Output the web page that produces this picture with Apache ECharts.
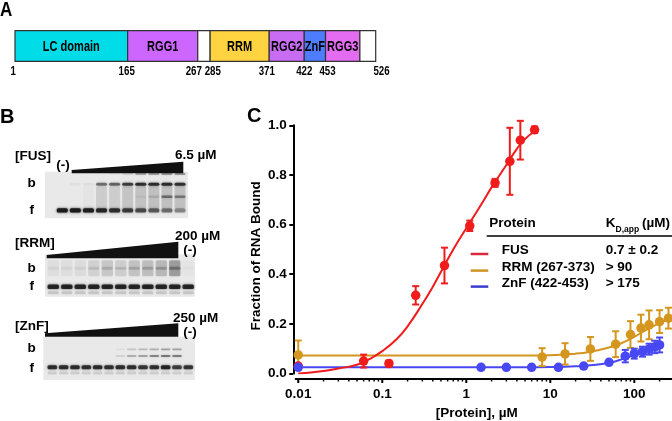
<!DOCTYPE html>
<html><head><meta charset="utf-8">
<script src="https://cdn.jsdelivr.net/npm/echarts@6/dist/echarts.min.js"></script>
<style>html,body{margin:0;padding:0;background:#fff}#c{width:672px;height:421px}</style>
</head><body><div id="c"></div>
<script>
// ---------- Panel A: FUS domain map ----------
const domainNames  = ['LC domain', 'RGG1', '', 'RRM', 'RGG2', 'ZnF', 'RGG3', ''];
const domainStart  = [1, 165, 267, 285, 371, 422, 453, 503];
const domainEnd    = [165, 267, 285, 371, 422, 453, 503, 526];
const boundaryTicks = [1, 165, 267, 285, 371, 422, 453, 526];

// ---------- Panel B: EMSA gels (band intensity per lane, 0..1) ----------
const fusLanes = [1, 2, 3, 4, 5, 6, 7, 8, 9, 10];
const fusFree  = [0.92, 0.92, 0.9, 0.85, 0.8, 0.72, 0.65, 0.58, 0.5, 0.4];
const fusBound = [0, 0.04, 0.05, 0.5, 0.55, 0.72, 0.8, 0.82, 0.82, 0.8];
const fusTop   = [0, 0, 0, 0, 0.04, 0.12, 0.3, 0.32, 0.36, 0.36];
const fusSuper = [0, 0, 0, 0, 0, 0, 0.05, 0.12, 0.45, 0.4];
const fusSmear = [0, 0, 0.02, 0.12, 0.12, 0.15, 0.16, 0.17, 0.17, 0.17];

const rrmLanes = [1, 2, 3, 4, 5, 6, 7, 8, 9, 10, 11];
const rrmFree  = [0.85, 0.86, 0.85, 0.85, 0.86, 0.85, 0.85, 0.86, 0.85, 0.85, 0.85];
const rrmSmear = [0.05, 0.05, 0.06, 0.1, 0.14, 0.12, 0.16, 0.18, 0.2, 0.3, 0.02];
const rrmLower = [0.15, 0.15, 0.15, 0.15, 0.15, 0.15, 0.15, 0.15, 0.15, 0.15, 0.15];

const znfLanes = [1, 2, 3, 4, 5, 6, 7, 8, 9, 10, 11, 12, 13];
const znfFree  = [0.8, 0.8, 0.8, 0.78, 0.8, 0.78, 0.8, 0.78, 0.75, 0.78, 0.85, 0.7, 0.75];
const znfUpper = [0, 0, 0, 0, 0, 0, 0.05, 0.15, 0.2, 0.25, 0.3, 0.3, 0];
const znfLower = [0, 0, 0, 0, 0, 0, 0.1, 0.25, 0.3, 0.42, 0.48, 0.45, 0];
const znfFaint = [0.12, 0.12, 0.12, 0.12, 0.12, 0.12, 0.12, 0.12, 0.12, 0.12, 0.12, 0.12, 0.12];

// ---------- Panel C: binding curves ----------
const fusConc  = [0.01, 0.06, 0.12, 0.25, 0.55, 1.1, 2.2, 3.3, 4.4, 6.5];
const fusFrac  = [0.03, 0.05, 0.04, 0.315, 0.435, 0.595, 0.768, 0.855, 0.94, 0.982];
const fusErr   = [0.005, 0.026, 0.012, 0.037, 0.072, 0.021, 0.016, 0.135, 0.078, 0.013];

const rrmConc  = [0.01, 8, 15, 30, 60, 90, 120, 150, 200, 255];
const rrmFrac  = [0.075, 0.066, 0.079, 0.099, 0.118, 0.157, 0.183, 0.196, 0.209, 0.223];
const rrmErr   = [0.058, 0.036, 0.043, 0.048, 0.052, 0.054, 0.054, 0.058, 0.046, 0.042];

const znfConc  = [0.01, 1.5, 3, 6, 12.5, 25, 50, 78, 100, 125, 150, 175, 200];
const znfFrac  = [0.025, 0.025, 0.025, 0.025, 0.025, 0.03, 0.045, 0.07, 0.08, 0.088, 0.098, 0.107, 0.115];
const znfErr   = [0.004, 0.003, 0.003, 0.003, 0.003, 0.003, 0.005, 0.025, 0.02, 0.02, 0.022, 0.025, 0.03];

const fusFitX = [0.01, 0.015, 0.02, 0.03, 0.05, 0.07, 0.1, 0.15, 0.2, 0.3, 0.4, 0.5, 0.7, 1, 1.5, 2, 3, 4, 5, 6.5];
const fusFitY = [0.0, 0.005, 0.01, 0.02, 0.035, 0.058, 0.09, 0.14, 0.19, 0.28, 0.35, 0.41, 0.5, 0.585, 0.68, 0.75, 0.84, 0.905, 0.945, 0.975];
const rrmFitX = [0.01, 1, 5, 10, 20, 30, 50, 70, 100, 150, 200, 281];
const rrmFitY = [0.073, 0.073, 0.073, 0.074, 0.08, 0.088, 0.105, 0.122, 0.148, 0.182, 0.203, 0.226];
const znfFitX = [0.01, 1, 5, 10, 20, 30, 50, 75, 100, 150, 200];
const znfFitY = [0.025, 0.025, 0.025, 0.026, 0.029, 0.033, 0.043, 0.06, 0.075, 0.098, 0.115];

const xMajorTicks = [0.01, 0.1, 1, 10, 100];
const xMajorLabels = ['0.01', '0.1', '1', '10', '100'];
const xMinorTicks = [0.02,0.03,0.04,0.05,0.06,0.07,0.08,0.09,0.2,0.3,0.4,0.5,0.6,0.7,0.8,0.9,2,3,4,5,6,7,8,9,20,30,40,50,60,70,80,90,200];

const legendNames = ['FUS', 'RRM (267-373)', 'ZnF (422-453)'];
const legendKd = ['0.7 \u00b1 0.2', '> 90', '> 175'];

// ---------- styles ----------
const SANS = '"Liberation Sans", Arial, Helvetica, sans-serif';
const domainColors = ['#00dde8', '#cc66ff', '#ffffff', '#ffd440', '#c86cf4', '#4d7cff', '#e36cf0', '#ffffff'];
const numberNudge = [-1.7, -1, -4, 2.7, -2.4, 0, 2, 5.8];
const RED = '#f01c1c', GOLD = '#d4961e', BLUE = '#4848f2';
const swatchColors = ['#d8283c', '#cf9424', '#3c3cd0'];
const AXIS_DROP = 5;   // x axis line sits 5px below y = 0

function bold(size) { return 'bold ' + size + 'px ' + SANS; }

function gelData(lanes, rows) {
  const out = [];
  rows.forEach(r => lanes.forEach((ln, i) => { if (r.vals[i] > 0) out.push([ln, r.pos, r.vals[i], r.thick]); }));
  return out;
}
function gelRender(params, api) {
  const a = api.value(2);
  const c = api.coord([api.value(0), api.value(1)]);
  const w = api.size([0.84, 0])[0];
  const h = api.size([0, api.value(3)])[1];
  const col = 'rgba(22,22,22,' + a + ')';
  return { type: 'rect', shape: { x: c[0] - w / 2, y: c[1] - h / 2, width: w, height: h, r: Math.min(1.5, h / 2) },
    style: { fill: col, shadowBlur: 2.5, shadowColor: col } };
}
function errRender(color) {
  return function (params, api) {
    const x = api.value(0);
    const p1 = api.coord([x, api.value(2)]);
    const p2 = api.coord([x, api.value(1)]);
    const hw = 3.5;
    const ls = { stroke: color, lineWidth: 2 };
    return { type: 'group', children: [
      { type: 'line', shape: { x1: p1[0], y1: p1[1], x2: p2[0], y2: p2[1] }, style: ls },
      { type: 'line', shape: { x1: p1[0] - hw, y1: p1[1], x2: p1[0] + hw, y2: p1[1] }, style: ls },
      { type: 'line', shape: { x1: p2[0] - hw, y1: p2[1], x2: p2[0] + hw, y2: p2[1] }, style: ls }
    ] };
  };
}
function tickRender(len, width) {
  return function (params, api) {
    const p = api.coord([api.value(0), 0]);
    const y0 = p[1] + AXIS_DROP;
    return { type: 'line', shape: { x1: p[0], y1: y0, x2: p[0], y2: y0 + len }, style: { stroke: '#000', lineWidth: width } };
  };
}
const zip = (a, b) => a.map((v, i) => [v, b[i]]);
const errData = (x, y, e) => x.map((v, i) => [v, y[i] - e[i], y[i] + e[i]]);

const hiddenAxis = (gi, extra) => Object.assign({ gridIndex: gi, type: 'value', show: false, axisLine: { onZero: false } }, extra);

const gelGrid = (l, t, w, h) => ({ left: l, top: t, width: w, height: h, show: true, backgroundColor: '#e9e9e9', borderWidth: 0, outerBoundsMode: 'none', containLabel: false });

const option = {
  animation: false,
  backgroundColor: '#ffffff',
  textStyle: { fontFamily: SANS },
  grid: [
    { left: 15, top: 30.7, width: 360.7, height: 30.6, outerBoundsMode: 'none', containLabel: false },
    gelGrid(45, 171.7, 143, 46.6),
    gelGrid(45, 254.3, 150, 42.4),
    gelGrid(43.3, 336.7, 151.7, 43.3),
    { left: 295.6, right: 0, top: 125.3, bottom: 47.5, outerBoundsMode: 'none', containLabel: false }
  ],
  xAxis: [
    hiddenAxis(0, { min: 1, max: 526 }),
    hiddenAxis(1, { min: -0.32, max: 10.61 }),
    hiddenAxis(2, { min: 0.385, max: 11.5 }),
    hiddenAxis(3, { min: 0.206, max: 13.59 }),
    {
      gridIndex: 4, type: 'log', min: 0.0093, max: 281, offset: AXIS_DROP, position: 'bottom',
      axisLine: { show: true, onZero: false, lineStyle: { color: '#000', width: 2 } },
      axisTick: { show: false },
      minorTick: { show: false }, splitLine: { show: false },
      axisLabel: { customValues: xMajorTicks, margin: 9, color: '#000', fontSize: 13.5, fontWeight: 'bold', fontFamily: SANS,
        formatter: v => { let bi = 0, bd = 1e9; xMajorTicks.forEach((t, i) => { const d = Math.abs(Math.log10(t) - Math.log10(v)); if (d < bd) { bd = d; bi = i; } }); return bd < 0.01 ? xMajorLabels[bi] : ''; } },
      name: '[Protein], \u00b5M', nameLocation: 'middle', nameGap: 27,
      nameTextStyle: { color: '#000', fontSize: 13.5, fontWeight: 'bold', fontFamily: SANS, padding: [0, 14, 0, 0] }
    }
  ],
  yAxis: [
    hiddenAxis(0, { min: 0, max: 1 }),
    hiddenAxis(1, { min: 0, max: 46.6, inverse: true }),
    hiddenAxis(2, { min: 0, max: 42.4, inverse: true }),
    hiddenAxis(3, { min: 0, max: 43.3, inverse: true }),
    {
      gridIndex: 4, type: 'value', min: 0, max: 1, interval: 0.2, offset: 2.3,
      axisLine: { show: true, onZero: false, lineStyle: { color: '#000', width: 2 } },
      axisTick: { show: true, length: 4, lineStyle: { color: '#000', width: 2 } },
      splitLine: { show: false },
      axisLabel: { formatter: v => v.toFixed(1), margin: 6.5, color: '#000', fontSize: 13.5, fontWeight: 'bold', fontFamily: SANS }
    }
  ],
  series: [
    // Panel A domains
    { type: 'custom', xAxisIndex: 0, yAxisIndex: 0, clip: false,
      data: domainStart.map((s, i) => [s, domainEnd[i], i]), encode: { x: [0, 1] },
      renderItem: (params, api) => {
        const i = api.value(2);
        const p0 = api.coord([api.value(0), 1]);
        const p1 = api.coord([api.value(1), 0]);
        const ch = [{ type: 'rect', shape: { x: p0[0], y: p0[1], width: p1[0] - p0[0], height: p1[1] - p0[1] },
          style: { fill: domainColors[i], stroke: '#333', lineWidth: 1.2 } }];
        if (domainNames[i]) ch.push({ type: 'text', x: (p0[0] + p1[0]) / 2, y: (p0[1] + p1[1]) / 2 + 0.5, scaleX: 0.76,
          style: { text: domainNames[i], font: bold(14.5), fill: '#000', align: 'center', verticalAlign: 'middle' } });
        return { type: 'group', children: ch };
      } },
    { type: 'custom', xAxisIndex: 0, yAxisIndex: 0, clip: false,
      data: boundaryTicks.map(v => [v, 0]),
      renderItem: (params, api) => {
        const p = api.coord([api.value(0), 0]);
        return { type: 'text', x: p[0] + numberNudge[params.dataIndex], y: p[1] + 9.6, scaleX: 0.72,
          style: { text: String(api.value(0)), font: bold(13.5), fill: '#000', align: 'center', verticalAlign: 'middle' } };
      } },
    // Panel B gels
    { type: 'custom', xAxisIndex: 1, yAxisIndex: 1, renderItem: gelRender,
      data: gelData(fusLanes, [
        { vals: fusSmear, pos: 25.5, thick: 22 },
        { vals: fusTop, pos: 2.3, thick: 2 },
        { vals: fusBound, pos: 12.6, thick: 3 },
        { vals: fusSuper, pos: 25, thick: 2.5 },
        { vals: fusFree, pos: 38.6, thick: 4.2 }
      ]) },
    { type: 'custom', xAxisIndex: 2, yAxisIndex: 2, renderItem: gelRender,
      data: gelData(rrmLanes, [
        { vals: rrmSmear, pos: 14, thick: 16 },
        { vals: rrmSmear, pos: 14, thick: 3 },
        { vals: rrmLower, pos: 38.5, thick: 3 },
        { vals: rrmFree, pos: 32.4, thick: 4.5 }
      ]) },
    { type: 'custom', xAxisIndex: 3, yAxisIndex: 3, renderItem: gelRender,
      data: gelData(znfLanes, [
        { vals: znfUpper, pos: 12.6, thick: 1.8 },
        { vals: znfLower, pos: 19.3, thick: 2 },
        { vals: znfFaint, pos: 36.2, thick: 3 },
        { vals: znfFree, pos: 30.6, thick: 4 }
      ]) },
    // Panel C x-axis ticks (major and log minor)
    { type: 'custom', xAxisIndex: 4, yAxisIndex: 4, clip: false, silent: true, data: xMajorTicks.map(v => [v, 0]), renderItem: tickRender(4.5, 2), z: 5 },
    { type: 'custom', xAxisIndex: 4, yAxisIndex: 4, clip: false, silent: true, data: xMinorTicks.map(v => [v, 0]), renderItem: tickRender(3, 1.5), z: 5 },
    // Panel C fits
    { type: 'line', xAxisIndex: 4, yAxisIndex: 4, data: zip(rrmFitX, rrmFitY), smooth: true, showSymbol: false, lineStyle: { color: GOLD, width: 2 }, z: 2 },
    { type: 'line', xAxisIndex: 4, yAxisIndex: 4, data: zip(znfFitX, znfFitY), smooth: true, showSymbol: false, lineStyle: { color: BLUE, width: 2 }, z: 2 },
    { type: 'line', xAxisIndex: 4, yAxisIndex: 4, data: zip(fusFitX, fusFitY), smooth: true, showSymbol: false, lineStyle: { color: RED, width: 2 }, z: 2 },
    // error bars
    { type: 'custom', xAxisIndex: 4, yAxisIndex: 4, clip: false, data: errData(fusConc, fusFrac, fusErr), encode: { x: 0, y: [1, 2] }, renderItem: errRender(RED), z: 3 },
    { type: 'custom', xAxisIndex: 4, yAxisIndex: 4, clip: false, data: errData(rrmConc, rrmFrac, rrmErr), encode: { x: 0, y: [1, 2] }, renderItem: errRender(GOLD), z: 3 },
    { type: 'custom', xAxisIndex: 4, yAxisIndex: 4, clip: false, data: errData(znfConc, znfFrac, znfErr), encode: { x: 0, y: [1, 2] }, renderItem: errRender(BLUE), z: 3 },
    // points
    { type: 'scatter', xAxisIndex: 4, yAxisIndex: 4, data: zip(fusConc, fusFrac), symbolSize: 9.5, itemStyle: { color: RED, opacity: 1 }, z: 4, clip: false },
    { type: 'scatter', xAxisIndex: 4, yAxisIndex: 4, data: zip(rrmConc, rrmFrac), symbolSize: 9.5, itemStyle: { color: GOLD, opacity: 1 }, z: 4, clip: false },
    { type: 'scatter', xAxisIndex: 4, yAxisIndex: 4, data: zip(znfConc, znfFrac), symbolSize: 9.5, itemStyle: { color: BLUE, opacity: 1 }, z: 4, clip: false }
  ],
  graphic: []
};

// ---------- annotations ----------
const G = option.graphic;
const txt = (x, y, text, size, align, extra) => G.push(Object.assign({ type: 'text', x: x, y: y, z: 10,
  style: { text: text, font: bold(size), fill: '#000', align: align || 'left', verticalAlign: 'middle' } }, extra || {}));
// panel letters
txt(0, 10.5, 'A', 20, 'left', { scaleX: 0.85 });
txt(0, 117.5, 'B', 20);
txt(247, 116.5, 'C', 20);
// y-axis title of panel C
txt(256.7, 255.8, 'Fraction of RNA Bound', 13.5, 'center', { rotation: Math.PI / 2 });
// gel labels
txt(15, 156.7, '[FUS]', 13.5); txt(63, 165, '(-)', 13.5, 'center'); txt(175, 155, '6.5 \u00b5M', 13.5);
txt(31.7, 183.3, 'b', 13.5, 'center'); txt(31.7, 210, 'f', 13.5, 'center');
txt(15, 243.3, '[RRM]', 13.5); txt(175, 236.7, '200 \u00b5M', 13.5); txt(190, 250.5, '(-)', 13.5, 'center');
txt(31.7, 268.3, 'b', 13.5, 'center'); txt(31.7, 286.7, 'f', 13.5, 'center');
txt(15, 326.7, '[ZnF]', 13.5); txt(173, 318.3, '250 \u00b5M', 13.5); txt(190, 332, '(-)', 13.5, 'center');
txt(31.7, 348.3, 'b', 13.5, 'center'); txt(31.7, 368.3, 'f', 13.5, 'center');
// wedges
const wedge = pts => G.push({ type: 'polygon', shape: { points: pts }, style: { fill: '#111' }, z: 10 });
wedge([[71.7, 170], [183.3, 161.7], [183.3, 173.3], [71.7, 173.3]]);
wedge([[46.7, 255], [178.3, 241.7], [178.3, 258.3], [46.7, 258.3]]);
wedge([[45, 333.3], [178.3, 323.3], [178.3, 336.7], [45, 336.7]]);
// panel C legend table
txt(489.3, 223.3, 'Protein', 13.5);
txt(605.7, 223.3, 'K', 13.5);
txt(615.5, 229.5, 'D,app', 8.5);
txt(642, 223.3, '(\u00b5M)', 13.5);
G.push({ type: 'line', shape: { x1: 486.7, y1: 236, x2: 672, y2: 236 }, style: { stroke: '#000', lineWidth: 1.5 }, z: 10 });
const rowY = [250.7, 267.3, 283.3];
legendNames.forEach((n, i) => {
  G.push({ type: 'line', shape: { x1: 470.7, y1: rowY[i] + 3.3, x2: 488.3, y2: rowY[i] + 3.3 }, style: { stroke: swatchColors[i], lineWidth: 2.5 }, z: 10 });
  txt(501.7, rowY[i], n, 13.5);
  txt(605.7, rowY[i], legendKd[i], 13.5);
});

const chart = echarts.init(document.getElementById('c'), null, { renderer: 'canvas' });
chart.setOption(option);
</script>
</body></html>
